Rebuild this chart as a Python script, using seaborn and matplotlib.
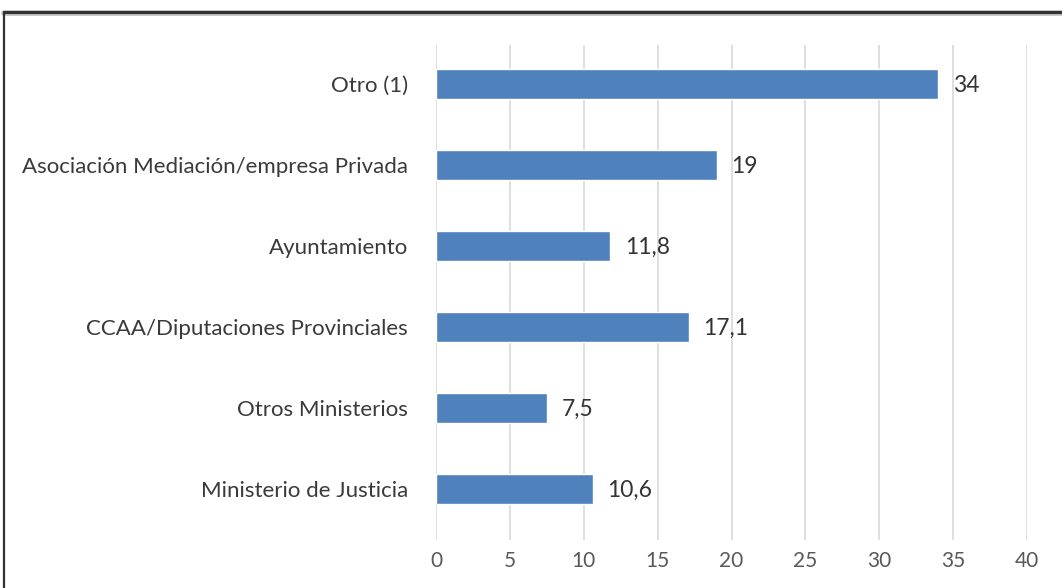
import matplotlib
matplotlib.use("Agg")
import matplotlib.pyplot as plt
import seaborn as sns
import pandas as pd
from matplotlib.lines import Line2D

categories = ["Otro (1)", "Asociación Mediación/empresa Privada", "Ayuntamiento",
              "CCAA/Diputaciones Provinciales", "Otros Ministerios", "Ministerio de Justicia"]
values = [34, 19, 11.8, 17.1, 7.5, 10.6]
value_labels = ["34", "19", "11,8", "17,1", "7,5", "10,6"]
xticks = [0, 5, 10, 15, 20, 25, 30, 35, 40]

df = pd.DataFrame({"cat": categories, "val": values})

sns.set_style("white")
plt.rcParams['font.family'] = ['Lato', 'DejaVu Sans']

fig = plt.figure(figsize=(10.62, 5.88), dpi=100)
ax = fig.add_axes([436/1062, 1-540/588, (1027-436)/1062, (540-45)/588])

sns.barplot(data=df, x="val", y="cat", orient="h", color="#4F81BD",
            saturation=1, width=0.37, ax=ax, zorder=3)

ax.set_xlim(0, 40)
ax.set_ylim(5.63, -0.48)
ax.set_xticks(xticks)
ax.set_xticklabels([str(t) for t in xticks], fontsize=15, color="#595959")
ax.tick_params(axis="x", length=0, pad=8)
ax.tick_params(axis="y", length=0, pad=20, labelsize=16, labelcolor="#3A3A3A")
ax.grid(axis="x", color="#D9D9D9", linewidth=1.2, zorder=0)
ax.grid(axis="y", visible=False)
ax.set_xlabel("")
ax.set_ylabel("")
for s in ax.spines.values():
    s.set_visible(False)

for i, (v, lab) in enumerate(zip(values, value_labels)):
    ax.annotate(lab, xy=(v, i), xytext=(10.5, -1), textcoords="offset points",
                va="center", ha="left", fontsize=16.5, color="#333333")

# page frame lines
fig.add_artist(Line2D([4/1062, 1], [1-13/588, 1-13/588], transform=fig.transFigure,
                      color="#BBBBBB", linewidth=4))
fig.add_artist(Line2D([4/1062, 1], [1-12/588, 1-12/588], transform=fig.transFigure,
                      color="#333333", linewidth=2.2))
fig.add_artist(Line2D([4/1062, 4/1062], [0, 1-12/588], transform=fig.transFigure,
                      color="#333333", linewidth=1.6))

fig.savefig("out.png", dpi=100)
